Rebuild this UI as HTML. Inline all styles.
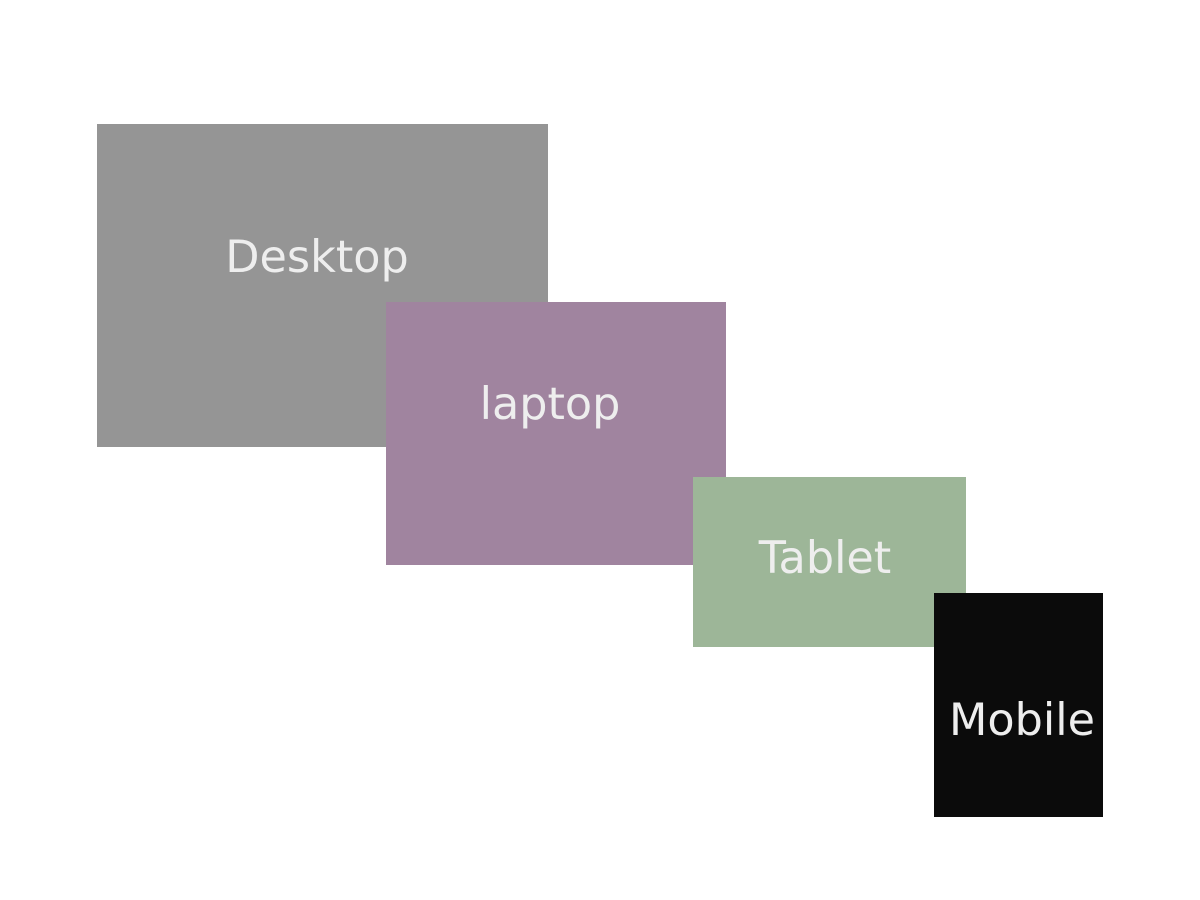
<!DOCTYPE html>
<html><head><style>
html,body{margin:0;padding:0;background:#fff;width:1200px;height:900px;overflow:hidden}
.r{position:absolute}
.t{position:absolute;color:#eee;font-family:"DejaVu Sans","Liberation Sans",sans-serif;font-size:44.5px;line-height:1;white-space:nowrap;transform:translate(-50%,-50%)}
</style></head><body>
<div class="r" style="left:97px;top:124px;width:451px;height:323px;background:#959595"></div>
<div class="r" style="left:386px;top:302px;width:340px;height:263px;background:#a0849f"></div>
<div class="r" style="left:693px;top:477px;width:273px;height:170px;background:#9db698"></div>
<div class="r" style="left:934px;top:593px;width:169px;height:224px;background:#0b0b0b"></div>
<div class="t" style="left:317px;top:258px">Desktop</div>
<div class="t" style="left:550px;top:405px">laptop</div>
<div class="t" style="left:825px;top:559px">Tablet</div>
<div class="t" style="left:1022px;top:721px">Mobile</div>
</body></html>
